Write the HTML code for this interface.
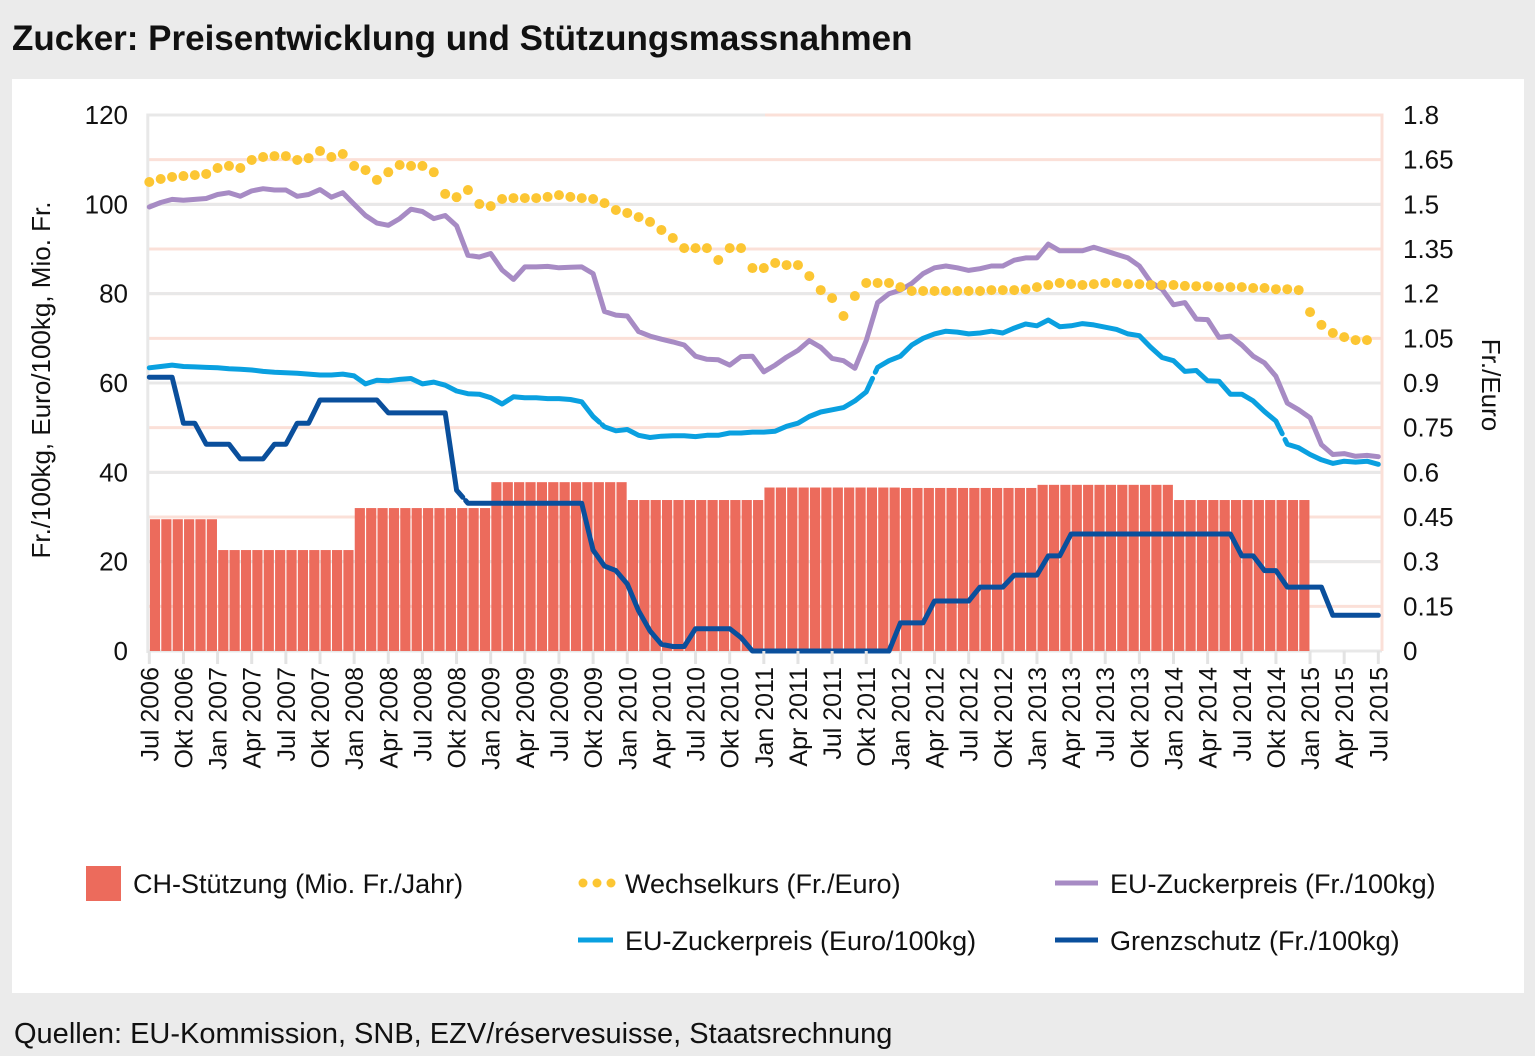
<!DOCTYPE html>
<html><head><meta charset="utf-8">
<style>
html,body{margin:0;padding:0;background:#ebebeb;}
body{width:1535px;height:1051px;overflow:hidden;position:relative;font-family:"Liberation Sans Narrow","Liberation Sans","DejaVu Sans Condensed",sans-serif;}
svg text{font-family:"Liberation Sans Narrow","Liberation Sans","DejaVu Sans Condensed",sans-serif;}
</style></head>
<body>
<svg id="chart" width="1535" height="1051" viewBox="0 0 1535 1051" xmlns="http://www.w3.org/2000/svg">
<rect x="0" y="0" width="1535" height="1051" fill="#ebebeb"/>
<text x="12" y="50" font-size="35" font-weight="bold" fill="#111">Zucker: Preisentwicklung und Stützungsmassnahmen</text>
<rect x="12" y="79" width="1512" height="914" fill="#fff"/>
<g id="grid"></g>
<g id="bars"></g>
<g id="lines"></g>
<g id="axes"></g>
<text transform="translate(50,380) rotate(-90)" text-anchor="middle" font-size="26" fill="#111">Fr./100kg, Euro/100kg, Mio. Fr.</text>
<text transform="translate(1482,385) rotate(90)" text-anchor="middle" font-size="26" fill="#111">Fr./Euro</text>
<g>
<rect x="86" y="866" width="35" height="35" fill="#ec6b5c"/>
<text x="133" y="893" font-size="27" fill="#111">CH-Stützung (Mio. Fr./Jahr)</text>
<circle cx="583" cy="883" r="4.5" fill="#fcc633"/><circle cx="597" cy="883" r="4.5" fill="#fcc633"/><circle cx="611" cy="883" r="4.5" fill="#fcc633"/>
<text x="625" y="893" font-size="27" fill="#111">Wechselkurs (Fr./Euro)</text>
<line x1="1055" y1="883" x2="1098" y2="883" stroke="#a78bc4" stroke-width="5"/>
<text x="1110" y="893" font-size="27" fill="#111">EU-Zuckerpreis (Fr./100kg)</text>
<line x1="578" y1="940" x2="613" y2="940" stroke="#0aa0e0" stroke-width="5"/>
<text x="625" y="950" font-size="27" fill="#111">EU-Zuckerpreis (Euro/100kg)</text>
<line x1="1055" y1="940" x2="1098" y2="940" stroke="#0a4f9c" stroke-width="5"/>
<text x="1110" y="950" font-size="27" fill="#111">Grenzschutz (Fr./100kg)</text>
</g>
<text x="14" y="1043" font-size="29" fill="#111">Quellen: EU-Kommission, SNB, EZV/réservesuisse, Staatsrechnung</text>
</svg>
<script>
var monthNames = ["Jan","Feb","Mär","Apr","Mai","Jun","Jul","Aug","Sep","Okt","Nov","Dez"];
var startYear = 2006, startMonth = 6, monthCount = 109;
var leftTicks = [0,20,40,60,80,100,120];
var rightTicks = ["0","0.15","0.3","0.45","0.6","0.75","0.9","1.05","1.2","1.35","1.5","1.65","1.8"];
var supportByYear = [29.5,22.6,32,37.8,33.8,36.6,36.5,37.2,33.8];
var exchangeRate = [1.575,1.585,1.592,1.595,1.598,1.602,1.622,1.629,1.622,1.649,1.659,1.662,1.662,1.649,1.655,
1.679,1.659,1.669,1.629,1.615,1.582,1.608,1.632,1.629,1.629,1.608,1.535,1.524,1.548,1.501,
1.494,1.518,1.521,1.521,1.521,1.525,1.531,1.525,1.521,1.518,
1.504,1.481,1.471,1.457,1.441,1.414,1.387,1.353,1.353,1.353,
1.313,1.353,1.353,1.286,1.286,1.303,1.296,1.296,1.259,1.212,
1.185,1.125,1.192,1.236,1.236,1.236,1.222,1.209,1.209,1.209,
1.209,1.209,1.209,1.209,1.212,1.212,1.212,1.215,1.222,1.229,
1.236,1.232,1.229,1.232,1.236,1.236,1.232,1.232,1.229,1.229,
1.229,1.226,1.225,1.225,1.222,1.222,1.222,1.219,1.219,1.215,
1.215,1.212,1.138,1.095,1.068,1.054,1.044,1.044,null];
var euPriceFr = [99.4,100.4,101.1,100.9,101.1,101.3,102.2,102.6,101.8,103,103.5,103.2,103.2,101.8,102.2,
103.3,101.6,102.6,100,97.5,95.8,95.3,96.8,98.9,98.4,96.8,97.5,95.2,88.6,88.2,
89,85.3,83.2,86,86,86.1,85.8,85.9,86,84.5,
76,75.2,75,71.5,70.5,69.8,69.2,68.5,66,65.3,
65.2,64,65.9,66,62.5,64,65.8,67.3,69.5,68,
65.5,65,63.3,69.5,78,80,80.8,82.3,84.5,85.8,
86.2,85.8,85.2,85.6,86.2,86.2,87.5,88,88,91.1,
89.6,89.6,89.6,90.4,89.6,88.8,88,86.2,82.6,81,
77.5,78,74.3,74.2,70.2,70.5,68.5,66,64.5,61.5,
55.5,54,52.2,46.2,44,44.2,43.6,43.8,43.5];
var euPriceEuro = [63.4,63.7,64,63.7,63.6,63.5,63.4,63.2,63.1,62.9,62.6,62.4,62.3,62.2,62,
61.8,61.8,62,61.6,59.8,60.6,60.5,60.8,61,59.8,60.2,59.5,58.2,57.6,57.5,
56.7,55.3,56.9,56.7,56.7,56.5,56.5,56.3,55.8,52.5,
50.2,49.3,49.6,48.3,47.8,48.1,48.2,48.2,48,48.3,
48.3,48.8,48.8,49,49,49.2,50.3,51,52.5,53.5,
54,54.5,56,58,63.5,65,66,68.5,70,71,
71.6,71.4,71,71.2,71.6,71.2,72.3,73.2,72.8,74.1,
72.6,72.8,73.3,73,72.5,72,71,70.6,68,65.7,
65,62.6,62.8,60.5,60.4,57.5,57.5,56,53.6,51.5,
46.3,45.5,44,42.8,42,42.5,42.3,42.5,41.8];
var euroBreaks = [39,63,99];
var borderProtection = [61.3,61.3,61.3,51,51,46.3,46.3,46.3,43,43,43,46.3,46.3,51,51,
56.2,56.2,56.2,56.2,56.2,56.2,53.3,53.3,53.3,53.3,53.3,53.3,36,33.1,33.1,
33.1,33.1,33.1,33.1,33.1,33.1,33.1,33.1,33.1,22.6,
19,18,15,9,4.5,1.5,1,1,5,5,
5,5,3,0,0,0,0,0,0,0,
0,0,0,0,0,0,6.3,6.3,6.3,11.2,
11.2,11.2,11.2,14.3,14.3,14.3,17,17,17,21.3,
21.3,26.2,26.2,26.2,26.2,26.2,26.2,26.2,26.2,26.2,
26.2,26.2,26.2,26.2,26.2,26.2,21.3,21.3,18,18,
14.3,14.3,14.3,14.3,8,8,8,8,8];
var borderBreaks = [27];

var NS = "http://www.w3.org/2000/svg";
var X0 = 149.3, MW = 11.38, YB = 651, YT = 115;
function xPos(i){ return X0 + i*MW; }
function yLeft(v){ return YB - v/120*(YB-YT); }
function yRight(v){ return YB - v/1.8*(YB-YT); }
function mk(tag, attrs, parent){ var e=document.createElementNS(NS,tag); for(var k in attrs) e.setAttribute(k,attrs[k]); parent.appendChild(e); return e; }

var grid = document.getElementById("grid");
var axes = document.getElementById("axes");
var plotRight = 1382;
for (var r=1;r<rightTicks.length;r++){
  var gy = yRight(parseFloat(rightTicks[r]));
  var gl = mk("line",{x1:X0-2,x2:plotRight,y1:gy,y2:gy,stroke:"#fbe0d8","stroke-width":3},grid);
  
  
}
for (var t=0;t<leftTicks.length;t++){
  var ly = yLeft(leftTicks[t]);
  var gg = mk("line",{x1:X0-2,x2:(t==leftTicks.length-1?765:plotRight),y1:ly,y2:ly,stroke:"#e8e8e8","stroke-width":3},grid);
  
  
  var lt = mk("text",{x:128,y:ly+9,"text-anchor":"end","font-size":26,fill:"#111"},axes);
  lt.textContent = leftTicks[t];
  
  
}
mk("line",{x1:765,x2:plotRight,y1:YT,y2:YT,stroke:"#fbe0d8","stroke-width":3},grid);
mk("line",{x1:plotRight,x2:plotRight,y1:YT-1.5,y2:YB,stroke:"#fbe0d8","stroke-width":3},grid);
mk("line",{x1:X0-1.5,x2:X0-1.5,y1:YT-1.5,y2:YB+2,stroke:"#e8e8e8","stroke-width":3},grid);
for (var r2=0;r2<rightTicks.length;r2++){
  var rt = mk("text",{x:1403,y:yRight(parseFloat(rightTicks[r2]))+9,"font-size":26,fill:"#111"},axes);
  rt.textContent = rightTicks[r2];
  
  
}
for (var i=0;i<monthCount;i+=3){
  var mi = (startMonth + i) % 12, yr = startYear + Math.floor((startMonth+i)/12);
  var tx = xPos(i);
  var tk = mk("line",{x1:tx,x2:tx,y1:YB,y2:YB+13,stroke:"#e3e3e3","stroke-width":3},axes);
  
  
  var xl = mk("text",{transform:"translate("+(tx+9)+","+(YB+16)+") rotate(-90)","text-anchor":"end","font-size":25,fill:"#111"},axes);
  xl.textContent = monthNames[mi]+" "+yr;
  
  
}
var bars = document.getElementById("bars");
for (var b=0;b<102;b++){
  var yIdx = Math.floor((startMonth + b)/12);
  var v = supportByYear[yIdx];
  var bx = xPos(b);
  var rect = mk("rect",{x:bx+0.6,y:yLeft(v),width:MW-1.2,height:YB-yLeft(v),fill:"#ec6b5c"},bars);
  
  
}
var lines = document.getElementById("lines");
function drawLine(data, breaks, color, name){
  var d="", pen=false, brk=false, prevX=0, prevY=0;
  for (var i=0;i<data.length;i++){
    if (data[i]===null){pen=false;continue;}
    var px=xPos(i), py=yLeft(data[i]);
    if (brk){
      // draw most of the connection, leave a small gap
      var mx = prevX + (px-prevX)*0.55, my = prevY + (py-prevY)*0.55;
      d += "L"+mx.toFixed(1)+" "+my.toFixed(1)+" ";
      var nx = prevX + (px-prevX)*0.8, ny = prevY + (py-prevY)*0.8;
      d += "M"+nx.toFixed(1)+" "+ny.toFixed(1)+" L"+px.toFixed(1)+" "+py.toFixed(1)+" ";
    } else {
      d += (pen?"L":"M")+px.toFixed(1)+" "+py.toFixed(1)+" ";
    }
    pen = true;
    brk = breaks.indexOf(i)>=0;
    prevX=px; prevY=py;
  }
  var p = mk("path",{d:d,fill:"none",stroke:color,"stroke-width":5,"stroke-linejoin":"round","stroke-linecap":"round"},lines);
  
  
}
drawLine(euPriceEuro, euroBreaks, "#0aa0e0", "line-eu-preis-euro");
drawLine(euPriceFr, [], "#a78bc4", "line-eu-preis-fr");
drawLine(borderProtection, borderBreaks, "#0a4f9c", "line-grenzschutz");
for (var k=0;k<exchangeRate.length;k++){
  if (exchangeRate[k]===null) continue;
  var c = mk("circle",{cx:xPos(k),cy:yRight(exchangeRate[k]),r:5,fill:"#fcc633"},lines);
  
  
}
</script>
</body></html>
